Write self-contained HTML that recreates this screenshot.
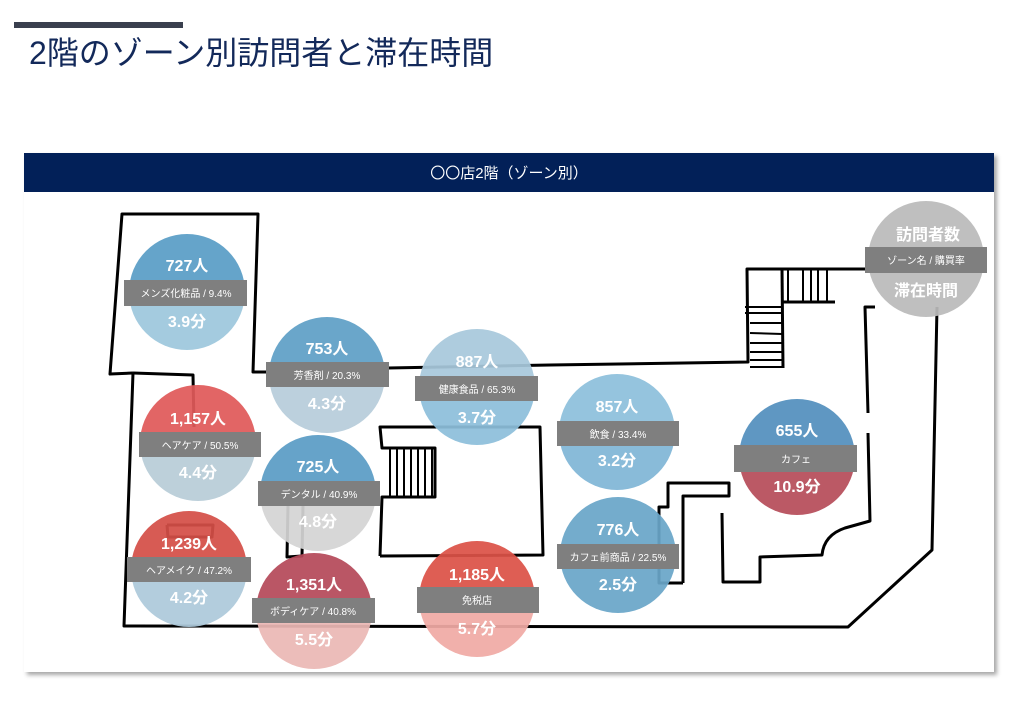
<!DOCTYPE html>
<html><head><meta charset="utf-8"><style>
body{margin:0;width:1015px;height:710px;background:#fff;overflow:hidden;font-family:"Liberation Sans","Noto Sans CJK JP",sans-serif}
</style></head><body>
<svg width="1015" height="710" xmlns="http://www.w3.org/2000/svg" style="position:absolute;left:0;top:0;font-family:'Liberation Sans','Noto Sans CJK JP',sans-serif">
<defs>
<filter id="sh" x="-5%" y="-5%" width="110%" height="110%"><feDropShadow dx="3" dy="3" stdDeviation="2" flood-color="#000" flood-opacity="0.35"/></filter>
</defs>
<rect x="14" y="22" width="169" height="6" fill="#3a3f4e"/>
<text x="29" y="64" font-size="32" fill="#13295a">2階のゾーン別訪問者と滞在時間</text>
<rect x="24" y="153" width="970" height="519" fill="#fff" filter="url(#sh)"/>
<rect x="24" y="153" width="970" height="39" fill="#022058"/>
<text x="509" y="178" font-size="15" fill="#fff" text-anchor="middle">〇〇店2階（ゾーン別）</text>
<g fill="none" stroke="#000" stroke-width="3" stroke-linejoin="round">
<polyline points="133,373 110,374 122,214 258,214 253,372 267,372"/>
<polyline points="388,368 550,365 748,362 747,269 865,269"/>
<polyline points="133,373 193,375 194,427"/>
<polyline points="133,373 124,626 848,627 932,550 937,307"/>
<polyline points="782,302 835,302"/>
<polyline points="782,269 783,368"/>
<polyline points="875,307 865,307 868,413"/>
<path d="M868,433 L870,521 L845,528 Q824,535 822,555 L760,557 L760,582 L723,582 L722,513"/>
<polyline points="683,583 683,496 729,496 729,483 668,483 668,507 659,507 659,583 683,583"/>
<polyline points="380,556 382,497 435,497 435,448 382,448 380,427 540,427 543,555 380,556"/>
<polyline points="288,505 287,557 302,556 303,505"/>
<polyline points="167,525 213,525 212,537 168,537 167,525"/>
</g>
<g stroke="#000" stroke-width="2">
<line x1="788" y1="269" x2="788" y2="301"/><line x1="803" y1="269" x2="803" y2="301"/><line x1="811" y1="269" x2="811" y2="301"/><line x1="818" y1="269" x2="818" y2="301"/><line x1="827" y1="269" x2="827" y2="301"/>
<line x1="745" y1="307" x2="782" y2="307"/><line x1="745" y1="313" x2="782" y2="313"/><line x1="750" y1="323" x2="782" y2="323"/><line x1="750" y1="333" x2="782" y2="334"/><line x1="750" y1="343" x2="782" y2="343"/><line x1="750" y1="352" x2="782" y2="352"/><line x1="750" y1="360" x2="782" y2="360"/><line x1="750" y1="367" x2="782" y2="367"/>
<line x1="390" y1="448" x2="390" y2="497"/><line x1="397" y1="448" x2="397" y2="497"/><line x1="404" y1="448" x2="404" y2="497"/><line x1="411" y1="448" x2="411" y2="497"/><line x1="418" y1="448" x2="418" y2="497"/><line x1="425" y1="448" x2="425" y2="497"/><line x1="432" y1="448" x2="432" y2="497"/>
</g>
<g opacity="0.93">
<g transform="translate(187,292)"><path d="M-58,0 A58,58 0 0 1 58,0Z" fill="#5a9ec6"/><path d="M-58,0 A58,58 0 0 0 58,0Z" fill="#9ec8dd"/></g>
<g transform="translate(327,375)"><path d="M-58,0 A58,58 0 0 1 58,0Z" fill="#5fa0c6"/><path d="M-58,0 A58,58 0 0 0 58,0Z" fill="#b7cddb"/></g>
<g transform="translate(477,387)"><path d="M-58,0 A58,58 0 0 1 58,0Z" fill="#a8c9dc"/><path d="M-58,0 A58,58 0 0 0 58,0Z" fill="#8dbfdb"/></g>
<g transform="translate(198,443)"><path d="M-58,0 A58,58 0 0 1 58,0Z" fill="#e05a5a"/><path d="M-58,0 A58,58 0 0 0 58,0Z" fill="#b8cdd8"/></g>
<g transform="translate(318,493)"><path d="M-58,0 A58,58 0 0 1 58,0Z" fill="#5b9dc5"/><path d="M-58,0 A58,58 0 0 0 58,0Z" fill="#d4d4d4"/></g>
<g transform="translate(189,569)"><path d="M-58,0 A58,58 0 0 1 58,0Z" fill="#d44f48"/><path d="M-58,0 A58,58 0 0 0 58,0Z" fill="#aecadb"/></g>
<g transform="translate(314,611)"><path d="M-58,0 A58,58 0 0 1 58,0Z" fill="#b54a5a"/><path d="M-58,0 A58,58 0 0 0 58,0Z" fill="#ebb8b5"/></g>
<g transform="translate(477,599)"><path d="M-58,0 A58,58 0 0 1 58,0Z" fill="#dc5248"/><path d="M-58,0 A58,58 0 0 0 58,0Z" fill="#f0aaa5"/></g>
<g transform="translate(617,432)"><path d="M-58,0 A58,58 0 0 1 58,0Z" fill="#8dc0dc"/><path d="M-58,0 A58,58 0 0 0 58,0Z" fill="#80b6d7"/></g>
<g transform="translate(618,555)"><path d="M-58,0 A58,58 0 0 1 58,0Z" fill="#6aa6c9"/><path d="M-58,0 A58,58 0 0 0 58,0Z" fill="#6aa6c9"/></g>
<g transform="translate(797,457)"><path d="M-58,0 A58,58 0 0 1 58,0Z" fill="#5390be"/><path d="M-58,0 A58,58 0 0 0 58,0Z" fill="#b64d5a"/></g>
<g transform="translate(926,259)"><path d="M-58,0 A58,58 0 0 1 58,0Z" fill="#bbbbbb"/><path d="M-58,0 A58,58 0 0 0 58,0Z" fill="#bbbbbb"/></g>
</g>
<g fill="#7f7f7f">
<rect x="124" y="280" width="123" height="26"/>
<rect x="266" y="362" width="123" height="25"/>
<rect x="415" y="376" width="123" height="25"/>
<rect x="139" y="432" width="122" height="25"/>
<rect x="258" y="481" width="122" height="25"/>
<rect x="127" y="557" width="124" height="25"/>
<rect x="252" y="598" width="123" height="25"/>
<rect x="417" y="587" width="122" height="26"/>
<rect x="557" y="421" width="122" height="25"/>
<rect x="557" y="544" width="122" height="25"/>
<rect x="734" y="445" width="123" height="27"/>
<rect x="865" y="247" width="122" height="26"/>
</g>
<g fill="#fff" text-anchor="middle" font-weight="bold" font-size="16">
<text x="187" y="271">727人</text><text x="187" y="327">3.9分</text>
<text x="327" y="354">753人</text><text x="327" y="409">4.3分</text>
<text x="477" y="367">887人</text><text x="477" y="423">3.7分</text>
<text x="198" y="424">1,157人</text><text x="198" y="478">4.4分</text>
<text x="318" y="472">725人</text><text x="318" y="527">4.8分</text>
<text x="189" y="549">1,239人</text><text x="189" y="603">4.2分</text>
<text x="314" y="590">1,351人</text><text x="314" y="645">5.5分</text>
<text x="477" y="580">1,185人</text><text x="477" y="634">5.7分</text>
<text x="617" y="412">857人</text><text x="617" y="466">3.2分</text>
<text x="618" y="535">776人</text><text x="618" y="590">2.5分</text>
<text x="797" y="436">655人</text><text x="797" y="492">10.9分</text>
<text x="928" y="240">訪問者数</text><text x="926" y="296">滞在時間</text>
</g>
<g fill="#fff" text-anchor="middle" font-size="10">
<text x="186" y="297">メンズ化粧品 / 9.4%</text>
<text x="327" y="379">芳香剤 / 20.3%</text>
<text x="477" y="393">健康食品 / 65.3%</text>
<text x="200" y="449">ヘアケア / 50.5%</text>
<text x="319" y="498">デンタル / 40.9%</text>
<text x="189" y="574">ヘアメイク / 47.2%</text>
<text x="313" y="615">ボディケア / 40.8%</text>
<text x="477" y="604">免税店</text>
<text x="618" y="438">飲食 / 33.4%</text>
<text x="618" y="561">カフェ前商品 / 22.5%</text>
<text x="796" y="463">カフェ</text>
<text x="926" y="264">ゾーン名 / 購買率</text>
</g>
</svg>
</body></html>
